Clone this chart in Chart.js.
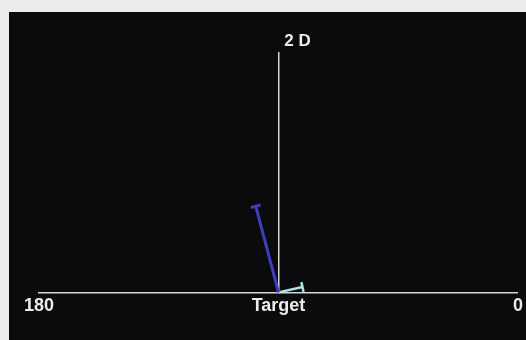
<!DOCTYPE html>
<html>
<head>
<meta charset="utf-8">
<script src="https://cdn.jsdelivr.net/npm/chart.js@4/dist/chart.umd.min.js"></script>
<style>
  html, body { margin: 0; padding: 0; background: #ececec; }
  #frame { position: absolute; left: 9px; top: 12px; width: 517px; height: 328px; background: #0b0b0d; }
</style>
</head>
<body>
<div id="frame"><canvas id="myChart" width="517" height="328"></canvas></div>
<script>
const ctx = document.getElementById('myChart');

// vector end points in dioptres (x, y), both starting at the origin
let vectorNames = ['Vector A', 'Vector B']
let vectorX = [-0.19, 0.2]
let vectorY = [0.72, 0.045]
let vectorColors = ['rgb(62, 62, 190)', 'rgb(170, 230, 230)']
let vectorWidths = [3, 2.5]

// axis
let xTicks = [-2, 0, 2]
let xTickLabels = ['180', 'Target', '0']
let yMax = 2
let yLabel = '2 D'

let datasets = []
for (let i = 0; i < vectorNames.length; i++) {
  // T-bar at the tip, drawn perpendicular to the vector
  let rot = Math.atan2(-vectorY[i], vectorX[i]) * 180 / Math.PI + 90
  datasets.push({
    label: vectorNames[i],
    data: [{x: 0, y: 0}, {x: vectorX[i], y: vectorY[i]}],
    showLine: true,
    borderColor: vectorColors[i],
    borderWidth: vectorWidths[i],
    pointStyle: 'line',
    pointRadius: [0, 5],
    pointBorderWidth: vectorWidths[i],
    pointBorderColor: vectorColors[i],
    pointRotation: rot,
    clip: false
  })
}

// "2 D" label just above the top of the vertical axis
const topLabel = {
  id: 'topLabel',
  afterDraw(chart) {
    const c = chart.ctx
    const x = chart.scales.x.getPixelForValue(0)
    const y = chart.scales.y.getPixelForValue(yMax)
    c.save()
    c.fillStyle = '#ececec'
    c.font = 'bold 17px "Liberation Sans", Arial, sans-serif'
    c.textAlign = 'center'
    c.textBaseline = 'middle'
    c.fillText(yLabel, x + 19, y - 12)
    c.restore()
  }
}

new Chart(ctx, {
  type: 'scatter',
  data: { datasets: datasets },
  plugins: [topLabel],
  options: {
    responsive: false,
    animation: false,
    layout: {
      padding: { left: 30, right: 8, top: 41, bottom: 20 }
    },
    scales: {
      x: {
        type: 'linear',
        min: -2,
        max: 2,
        afterBuildTicks: s => { s.ticks = xTicks.map(v => ({ value: v })) },
        grid: { display: false, drawTicks: false },
        border: { display: true, color: '#d4d4d4', width: 1.5 },
        ticks: {
          autoSkip: false,
          maxRotation: 0,
          padding: 3,
          color: '#ececec',
          font: { family: '"Liberation Sans", Arial, sans-serif', size: 18, weight: 'bold' },
          callback: (v) => xTickLabels[xTicks.indexOf(v)]
        }
      },
      y: {
        type: 'linear',
        min: 0,
        max: yMax,
        position: { x: 0 },
        grid: { display: false },
        border: { display: true, color: '#d4d4d4', width: 1.5 },
        ticks: { display: false }
      }
    },
    plugins: {
      legend: { display: false },
      tooltip: { enabled: false }
    }
  }
});
</script>
</body>
</html>
